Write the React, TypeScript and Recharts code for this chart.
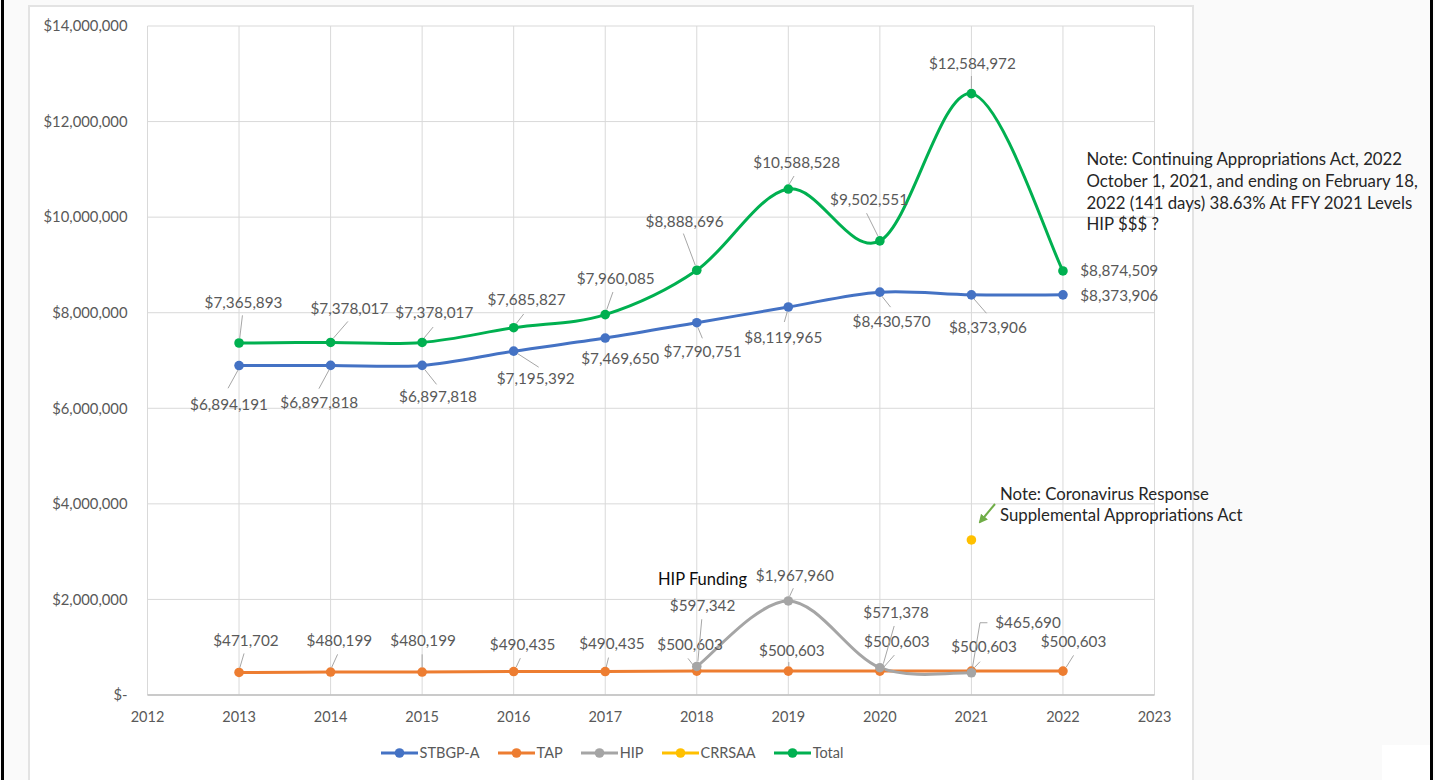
import React from 'react';
import { LineChart, Line, XAxis, YAxis, CartesianGrid, Legend } from 'recharts';

// ---------- data ----------
const years = [2013, 2014, 2015, 2016, 2017, 2018, 2019, 2020, 2021, 2022];
const xTicks = [2012, 2013, 2014, 2015, 2016, 2017, 2018, 2019, 2020, 2021, 2022, 2023];
const yTicks = [0, 2000000, 4000000, 6000000, 8000000, 10000000, 12000000, 14000000];

const stbgpA = [6894191, 6897818, 6897818, 7195392, 7469650, 7790751, 8119965, 8430570, 8373906, 8373906];
const tap = [471702, 480199, 480199, 490435, 490435, 500603, 500603, 500603, 500603, 500603];
const hip = [null, null, null, null, null, 597342, 1967960, 571378, 465690, null];
const crrsaa = [null, null, null, null, null, null, null, null, 3245000, null];
const total = [7365893, 7378017, 7378017, 7685827, 7960085, 8888696, 10588528, 9502551, 12584972, 8874509];

const seriesNames = { stbgpA: 'STBGP-A', tap: 'TAP', hip: 'HIP', crrsaa: 'CRRSAA', total: 'Total' };
const seriesColors = { stbgpA: '#4472C4', tap: '#ED7D31', hip: '#A5A5A5', crrsaa: '#FFC000', total: '#00B050' };

const noteTop = [
  'Note: Continuing Appropriations Act, 2022',
  'October 1, 2021, and ending on February 18,',
  '2022 (141 days) 38.63% At FFY 2021 Levels',
  'HIP $$$ ?',
];
const noteCovid = ['Note: Coronavirus Response', 'Supplemental Appropriations Act'];
const hipNote = 'HIP Funding';

const data = years.map((year, i) => ({
  year,
  stbgpA: stbgpA[i],
  tap: tap[i],
  hip: hip[i],
  crrsaa: crrsaa[i],
  total: total[i],
}));

// ---------- label placement (offsets relative to each point) ----------
type Place = { dx: number; dy: number; anchor?: 'start' | 'middle'; lead?: number[] } | null;

const totalPlaces: Place[] = [
  { dx: 4.5, dy: -40, lead: [3.4, -27.7, 0.7, -5] },
  { dx: 18.8, dy: -33.4, lead: [17.3, -21, 3, -4.5] },
  { dx: 12.2, dy: -29.4, lead: [11, -15.4, 2, -4.5] },
  { dx: 12.9, dy: -27.7, lead: [10, -13.7, 2.5, -4] },
  { dx: 10.5, dy: -36, lead: [7.7, -22.6, 1.5, -5] },
  { dx: -12.2, dy: -49, lead: [-13.4, -36.7, -1.5, -5] },
  { dx: 8.4, dy: -26.3, lead: [5.7, -13, 1, -5] },
  { dx: -10.8, dy: -41.7, lead: [-13.3, -27.7, -2, -5] },
  { dx: 1, dy: -30.3, lead: [0, -17.6, 0, -5] },
  { dx: 17.3, dy: 0, anchor: 'start' },
];
const stbgpPlaces: Place[] = [
  { dx: -10, dy: 39, lead: [-11, 22.7, -1, 4.5] },
  { dx: -11.3, dy: 37.7, lead: [-11.7, 23.3, -1.5, 4.5] },
  { dx: 15.9, dy: 31.7, lead: [14.4, 19, 2.5, 4] },
  { dx: 22, dy: 27.3, lead: [25, 16, 4, 2.5] },
  { dx: 15, dy: 20.7 },
  { dx: 5.8, dy: 29, lead: [5.6, 15.6, 1, 4.5] },
  { dx: -5, dy: 30.6, lead: [-4, 15, -1, 4.5] },
  { dx: 11.7, dy: 29.3, lead: [10.7, 15, 2, 4] },
  { dx: 16.5, dy: 33, lead: [15, 18.4, 2.5, 4] },
  { dx: 17.3, dy: 0.7, anchor: 'start' },
];
const tapPlaces: Place[] = [
  { dx: 6.9, dy: -31.7, lead: [5, -19, 0.7, -4.5] },
  { dx: 8.8, dy: -31, lead: [7, -17.7, 1, -4.5] },
  { dx: 1, dy: -31, lead: [0, -17.7, 0, -4.5] },
  { dx: 8.9, dy: -27.4, lead: [6.7, -13.4, 2.5, -4.5] },
  { dx: 6.7, dy: -28, lead: [3.3, -14, 1, -4.5] },
  { dx: -6.7, dy: -26.7, lead: [-8.8, -12.7, -2, -4] },
  { dx: 3.5, dy: -20.7, lead: [0.5, -9, 0.5, -5] },
  { dx: 17, dy: -29.4, lead: [14.5, -16, 4, -4] },
  { dx: 12.6, dy: -24.3, lead: [8.6, -9.4, 3, -3.5] },
  { dx: 10.6, dy: -29, lead: [10.6, -15.7, 3.3, -4] },
];
const hipPlaces: Place[] = [
  null, null, null, null, null,
  { dx: 5.8, dy: -60.8, lead: [5, -47.2, 1.1, -5] },
  { dx: 6.5, dy: -25, lead: [5, -12.7, 1.2, -4.5] },
  { dx: 16.2, dy: -55, lead: [14.3, -41.7, 3.5, -4] },
  { dx: 56.6, dy: -50, lead: [16, -50, 8.6, -50, 1, -5] },
  null,
];

// ---------- helpers ----------
const FONT = 'Lato, "Open Sans", sans-serif';
const fmtMoney = (v: number) => (v === 0 ? '$-' : '$' + Math.round(v).toLocaleString('en-US'));

// Excel-like smoothed line (Catmull-Rom bezier) as a d3-style curve factory
const excelSmooth: any = (context: any) => {
  let pts: number[][] = [];
  return {
    areaStart() {},
    areaEnd() {},
    lineStart() {
      pts = [];
    },
    point(x: number, y: number) {
      pts.push([+x, +y]);
    },
    lineEnd() {
      const n = pts.length;
      if (n === 0) return;
      context.moveTo(pts[0][0], pts[0][1]);
      if (n === 1) return;
      for (let i = 0; i < n - 1; i++) {
        const p0 = pts[i - 1] || pts[i];
        const p1 = pts[i];
        const p2 = pts[i + 1];
        const p3 = pts[i + 2] || pts[i + 1];
        const c1x = p1[0] + (p2[0] - p0[0]) / 6;
        const c1y = p1[1] + (p2[1] - p0[1]) / 6;
        const c2x = p2[0] - (p3[0] - p1[0]) / 6;
        const c2y = p2[1] - (p3[1] - p1[1]) / 6;
        context.bezierCurveTo(c1x, c1y, c2x, c2y, p2[0], p2[1]);
      }
    },
  };
};

const labelDot = (places: Place[], prefix: string) => (props: any) => {
  const { cx, cy, index, value } = props;
  const p = places[index];
  const key = `${prefix}-${index}`;
  if (cx == null || cy == null || value == null || !p || Number.isNaN(cy)) return <g key={key} />;
  let lead: React.ReactNode = null;
  if (p.lead) {
    const pts: string[] = [];
    for (let i = 0; i < p.lead.length; i += 2) pts.push(`${cx + p.lead[i]},${cy + p.lead[i + 1]}`);
    lead = <polyline points={pts.join(' ')} fill="none" stroke="#A6A6A6" strokeWidth={1} />;
  }
  return (
    <g key={key}>
      {lead}
      <text
        x={cx + p.dx}
        y={cy + p.dy}
        dy="0.35em"
        textAnchor={p.anchor || 'middle'}
        fontSize={15.3}
        fontFamily={FONT}
        fill="#595959"
      >
        {fmtMoney(value)}
      </text>
    </g>
  );
};

const seriesKeys: (keyof typeof seriesNames)[] = ['stbgpA', 'tap', 'hip', 'crrsaa', 'total'];

const renderLegend = (props: any) => {
  const items = (props.payload || [])
    .filter((e: any) => e.type !== 'none')
    .slice()
    .sort((a: any, b: any) => seriesKeys.indexOf(a.dataKey) - seriesKeys.indexOf(b.dataKey));
  return (
    <div
      style={{
        display: 'flex',
        justifyContent: 'center',
        alignItems: 'center',
        fontFamily: FONT,
        fontSize: 14.5,
        color: '#595959',
        lineHeight: '18px',
      }}
    >
      {items.map((e: any, i: number) => (
        <div key={i} style={{ display: 'flex', alignItems: 'center', marginRight: i < items.length - 1 ? 18 : 0 }}>
          <svg width={37} height={12} style={{ display: 'block' }}>
            <line x1={0} y1={6} x2={37} y2={6} stroke={e.color} strokeWidth={3} />
            <circle cx={18.5} cy={6} r={4.8} fill={e.color} />
          </svg>
          <span style={{ marginLeft: 2 }}>{e.value}</span>
        </div>
      ))}
    </div>
  );
};

const labelSets: { key: string; places: Place[] }[] = [
  { key: 'stbgpA', places: stbgpPlaces },
  { key: 'tap', places: tapPlaces },
  { key: 'hip', places: hipPlaces },
  { key: 'total', places: totalPlaces },
];

export default function App() {
  return (
    <div
      style={{
        position: 'absolute',
        left: 0,
        top: 0,
        width: 1435,
        height: 780,
        background: '#FAFAFA',
        overflow: 'hidden',
        fontFamily: FONT,
      }}
    >
      {/* page frame lines */}
      <div style={{ position: 'absolute', left: 1, top: 0, width: 3, height: 780, background: '#000' }} />
      <div style={{ position: 'absolute', left: 1430, top: 0, width: 3, height: 780, background: '#000' }} />
      {/* chart box */}
      <div
        style={{
          position: 'absolute',
          left: 28,
          top: 5,
          width: 1162,
          height: 790,
          background: '#FFFFFF',
          border: '2px solid #E3E3E3',
        }}
      />
      <div style={{ position: 'absolute', left: 1382, top: 745, width: 48, height: 35, background: '#FFFFFF' }} />

      <div style={{ position: 'absolute', left: 0, top: 0 }}>
        <LineChart
          width={1435}
          height={780}
          data={data}
          margin={{ top: 26, right: 280.5, bottom: 55, left: 47.5 }}
        >
          <CartesianGrid stroke="#D9D9D9" strokeWidth={1} />
          <XAxis
            dataKey="year"
            type="number"
            domain={[2012, 2023]}
            ticks={xTicks}
            interval={0}
            height={30}
            tickLine={false}
            tickSize={0}
            tickMargin={17}
            axisLine={{ stroke: '#BFBFBF', strokeWidth: 1.5 }}
            tick={{ fill: '#595959', fontSize: 14.5, fontFamily: FONT }}
          />
          <YAxis
            type="number"
            domain={[0, 14000000]}
            ticks={yTicks}
            interval={0}
            width={100}
            tickLine={false}
            tickSize={0}
            tickMargin={20}
            axisLine={false}
            tickFormatter={fmtMoney}
            tick={{ fill: '#595959', fontSize: 14.8, fontFamily: FONT }}
          />
          <Legend
            verticalAlign="middle"
            align="center"
            layout="horizontal"
            wrapperStyle={{ top: 744, left: 30, width: 1164 }}
            content={renderLegend}
          />
          {seriesKeys.map((k) => (
            <Line
              key={k}
              dataKey={k}
              name={seriesNames[k]}
              type={excelSmooth}
              stroke={seriesColors[k]}
              strokeWidth={3}
              dot={{ r: 4.8, fill: seriesColors[k], stroke: seriesColors[k], strokeWidth: 0 }}
              activeDot={false}
              isAnimationActive={false}
            />
          ))}
          {labelSets.map((s) => (
            <Line
              key={`lbl-${s.key}`}
              dataKey={s.key}
              stroke="none"
              legendType="none"
              dot={labelDot(s.places, s.key)}
              activeDot={false}
              isAnimationActive={false}
            />
          ))}
        </LineChart>
      </div>

      {/* annotations */}
      <svg
        width={1435}
        height={780}
        style={{ position: 'absolute', left: 0, top: 0, pointerEvents: 'none' }}
      >
        <defs>
          <marker id="arrowG" markerWidth="9" markerHeight="9" refX="7" refY="4.5" orient="auto" markerUnits="userSpaceOnUse">
            <path d="M0,0 L9,4.5 L0,9 Z" fill="#70AD47" />
          </marker>
        </defs>
        {noteTop.map((t, i) => (
          <text key={i} x={1086.5} y={159.3 + i * 21.7} dy="0.35em" fontSize={16.8} fontFamily={FONT} fill="#262626">
            {t}
          </text>
        ))}
        {noteCovid.map((t, i) => (
          <text key={i} x={1000} y={494 + i * 21.5} dy="0.35em" fontSize={16.8} fontFamily={FONT} fill="#262626">
            {t}
          </text>
        ))}
        <line x1={995} y1={504} x2={980} y2={522} stroke="#70AD47" strokeWidth={2} markerEnd="url(#arrowG)" />
        <text x={658} y={579} dy="0.35em" fontSize={16.5} fontFamily={FONT} fill="#0D0D0D">
          {hipNote}
        </text>
      </svg>
    </div>
  );
}
